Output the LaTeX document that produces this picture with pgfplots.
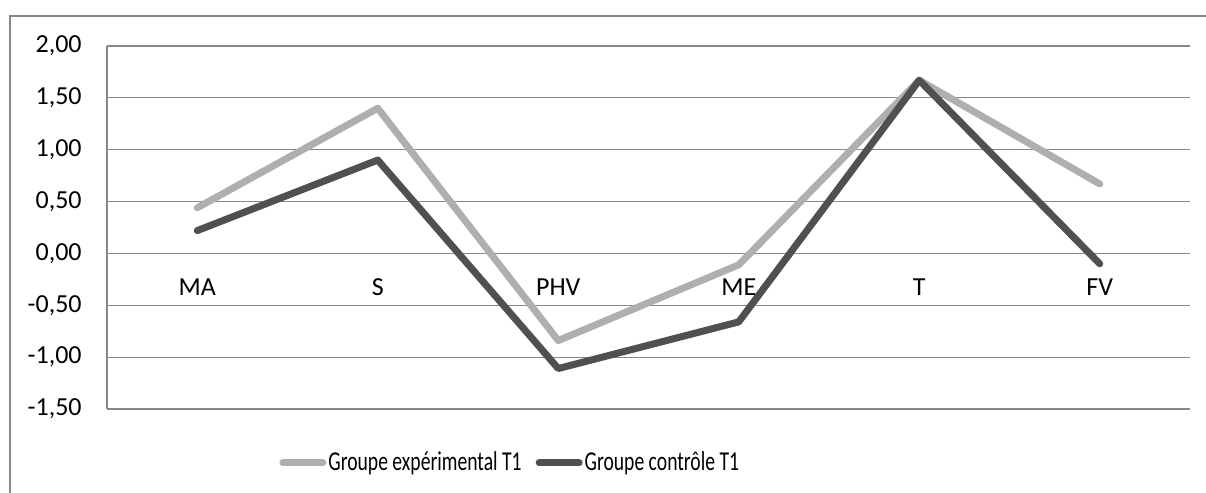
\documentclass[border=0pt]{standalone}
\usepackage{pgfplots}
\pgfplotsset{compat=1.18}
\usepackage{fontspec}
\setmainfont{Carlito}
\definecolor{gridc}{HTML}{888888}
\definecolor{expc}{HTML}{AFAFAF}
\definecolor{ctlc}{HTML}{505050}
\newcommand{\legtext}[1]{\scalebox{0.755}[1.05]{\fontsize{13}{15}\selectfont #1}}
\begin{document}
\begin{tikzpicture}[x=1pt,y=1pt]
\path[use as bounding box] (-53.5,-42) rectangle (549.5,204.5);
\draw[gridc, line width=0.6pt] (549.5,196.5) -- (-48.5,196.5) -- (-48.5,-42);
\begin{axis}[
  at={(0,0)}, anchor=south west,
  scale only axis, width=541.5pt, height=181.5pt,
  xmin=-0.5, xmax=5.5, ymin=-1.5, ymax=2,
  axis y line*=left, axis x line*=bottom,
  x axis line style={draw=none},
  y axis line style={gridc, line width=0.6pt},
  xtick={0,...,5}, xticklabels={MA,S,PHV,ME,T,FV},
  ytick={-1.5,-1,-0.5,0,0.5,1,1.5,2},
  yticklabels={{-1,50},{-1,00},{-0,50},{0,00},{0,50},{1,00},{1,50},{2,00}},
  major tick length=0pt,
  ymajorgrids, grid style={gridc, line width=0.6pt},
  tick label style={font=\fontsize{13}{15}\selectfont, text=black},
  yticklabel style={anchor=east, inner sep=0pt, xshift=-12.5pt},
  xticklabel style={anchor=base, inner sep=0pt, yshift=56.5pt},
  legend style={at={(86pt,-27pt)}, anchor=west, draw=none, fill=none,
    legend columns=2, inner sep=0pt,
    /tikz/every even column/.append style={column sep=6pt},
    nodes={inner sep=1pt}},
  legend image code/.code={\draw[#1, line cap=round] (0pt,0pt) -- (20pt,0pt);},
  legend cell align=left,
]
\addplot[expc, line width=3.5pt, line cap=round, line join=round] coordinates {
 (0,0.44) (1,1.40) (2,-0.84) (3,-0.11) (4,1.67) (5,0.67)};
\addlegendentry{\legtext{Groupe expérimental T1}}
\addplot[ctlc, line width=3.5pt, line cap=round, line join=round] coordinates {
 (0,0.22) (1,0.90) (2,-1.11) (3,-0.66) (4,1.67) (5,-0.10)};
\addlegendentry{\legtext{Groupe contrôle T1}}
\end{axis}
\end{tikzpicture}
\end{document}
